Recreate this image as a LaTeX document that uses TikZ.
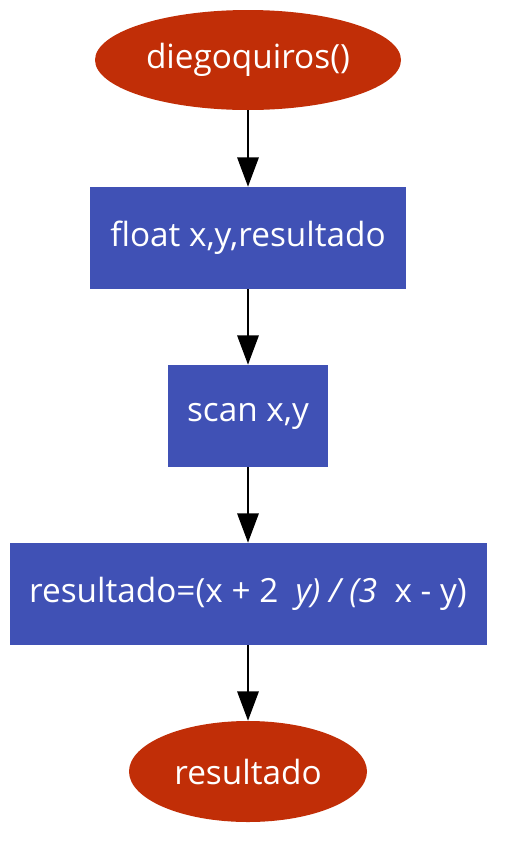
\documentclass[tikz,border=0pt]{standalone}
\usepackage{fontspec}
\setmainfont{Open Sans}
\usetikzlibrary{shapes.geometric,arrows.meta}
\definecolor{termred}{RGB}{193,46,7}
\definecolor{stepblue}{RGB}{64,81,181}
\tikzset{
  term/.style={ellipse, fill=termred, text=white, inner sep=0pt, font=\fontsize{25pt}{30pt}\selectfont},
  stepbox/.style={rectangle, fill=stepblue, text=white, inner sep=0pt, font=\fontsize{25pt}{30pt}\selectfont},
  flow/.style={line width=1.5pt, -{Triangle[length=22pt,width=16pt]}}
}
\begin{document}
\begin{tikzpicture}[x=0.75pt,y=-0.75pt]
\useasboundingbox (0,0) rectangle (511,847);
\node[term, minimum width=306*0.75pt, minimum height=100*0.75pt] (start) at (248,60) {diegoquiros()};
\node[stepbox, minimum width=316*0.75pt, minimum height=102*0.75pt] (decl) at (248,238) {float x,y,resultado};
\node[stepbox, minimum width=160*0.75pt, minimum height=102*0.75pt] (scan) at (248,416) {scan x,y};
\node[stepbox, minimum width=477*0.75pt, minimum height=102*0.75pt] (calc) at (248,594) {resultado=(x + 2 \textit{ y) / (3 } x - y)};
\node[term, minimum width=238*0.75pt, minimum height=101*0.75pt] (end) at (248,771.5) {resultado};
\draw[flow] (start) -- (decl);
\draw[flow] (decl) -- (scan);
\draw[flow] (scan) -- (calc);
\draw[flow] (calc) -- (end);
\end{tikzpicture}
\end{document}
